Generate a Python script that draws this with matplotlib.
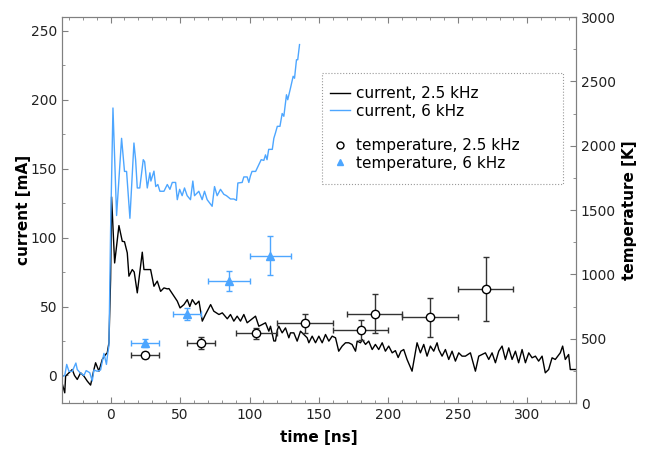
import matplotlib
matplotlib.use('Agg')
import matplotlib.pyplot as plt
from matplotlib.lines import Line2D
from matplotlib.patches import Rectangle
from matplotlib.ticker import MultipleLocator

# current trace, 2.5 kHz
t_25 = [-35, -33, -32.4, -30, -27.6, -26, -24, -21.6, -19.2, -16.8, -14.4, -12,
        -10.8, -8.4, -6, -3.6, -2.4, -1.2, 0, 0.7, 2.9, 6, 8.4, 10, 12, 13.2,
        15.6, 17, 19.2, 22.8, 24, 28.8, 31.2, 33.6, 36, 38.4, 40.8, 42, 45.6,
        48, 50, 52.8, 55.2, 57, 58.8, 61.2, 63.6, 66, 68.3, 72, 74.3, 78, 80.4,
        84, 86.3, 88.7, 91.1, 93.5, 95.9, 98.3, 101.9, 104.3, 106.7, 109.1,
        111.5, 113.9, 115.1, 117.5, 118.7, 120, 121.1, 123.5, 125.9, 128.3,
        129.5, 131.9, 134.3, 136.7, 139.1, 141.5, 142.7, 145.1, 147.5, 149.9,
        152.3, 154.7, 157.1, 159.5, 161.9, 164.2, 166.7, 169.1, 171.4, 173.8,
        176.3, 177.5, 179.9, 181.1, 183.5, 185.8, 188.3, 190.6, 193, 195.5,
        197.8, 200.2, 202.7, 205, 207, 209, 211, 213.4, 217, 220.6, 223, 225.4,
        227.8, 230.2, 232.6, 235, 236.2, 238.6, 241, 243.4, 245.8, 248.2,
        250.6, 253, 255.4, 259, 262.6, 265, 267.4, 269.8, 272.2, 274.6, 277,
        279.4, 281.8, 284.2, 286.6, 289, 291.4, 293.7, 296.2, 298.6, 301,
        303.4, 305.8, 308.1, 310.6, 312.9, 315.3, 317.8, 320.1, 323.7, 325.4,
        327.3, 329.7, 330.9, 334.5]
i_25 = [-5.3, -12.6, -0.5, 1.9, 4.3, 0, -2.9, 1.9, -0.5, -4.1, -7, 4.3,
        9.2, 3.1, 11.6, 15.2, 16.4, 23.7, 70, 129.5, 81.6, 108.7, 97.3, 97,
        88.9, 72, 76.8, 75, 59.9, 89.4, 76.8, 76.8, 64.7, 68.4, 61, 63.5, 62.8,
        63, 57.5, 53.9, 49, 51.4, 55, 50, 55, 51.4, 53.9, 39.4, 44.2, 51.4,
        46.6, 44.2, 45.4, 41.1, 44.2, 39.4, 43, 39.4, 44.2, 38.2, 41.1, 43,
        35.7, 36.9, 38.2, 32.1, 35.7, 25, 25, 33, 35.7, 30.9, 34.5, 27.3, 30.9,
        30.9, 24.9, 32.1, 29.7, 27.3, 23.7, 28.5, 23.7, 28.5, 23.7, 29.7, 24.9,
        28.5, 27.3, 17.6, 21.3, 23.7, 23.7, 22.5, 17.6, 24.9, 23.7, 26.1, 22.5,
        24.9, 18.8, 22.5, 18.8, 23.7, 17.6, 21.3, 16.4, 18, 13, 17.6, 18.8,
        11.6, 3.1, 23.7, 16.4, 22.5, 14, 21.3, 17.6, 23.7, 18.8, 14, 18.8,
        11.6, 17.6, 10.4, 16.4, 14, 14, 16.4, 3.1, 14, 15.2, 16.4, 11.6, 16.4,
        9.2, 17.6, 21.3, 11.6, 20, 11.6, 17.6, 9.2, 18.8, 9.2, 16.4, 12.8, 14,
        10.4, 14, 1.9, 4.3, 12.8, 11.6, 16.4, 21.3, 11.6, 15.2, 4.3, 4.3]

# current trace, 6 kHz
t_6 = [-35, -33, -31.6, -30, -27.6, -25, -24, -22, -19.2, -17.6, -15, -13.2,
       -12, -9.6, -7.2, -4.8, -3, -2, -1.2, 0, 1.7, 4.3, 7.9, 10, 11.5, 13.9,
       16.8, 18, 19.2, 21, 23.5, 24.5, 26.4, 28.3, 29, 31.2, 32.5, 34, 35.5,
       38.4, 40.8, 42.7, 44.4, 46.8, 48, 49.7, 51.5, 53.2, 55.1, 57.5, 59.2,
       60.4, 63.5, 65.9, 67.6, 69.5, 73.1, 74.8, 76.7, 79.1, 81.5, 83.4, 86.3,
       88.7, 90.6, 91.6, 94.7, 95.9, 98.3, 99.5, 100.6, 101.8, 104.4, 108.4,
       110.3, 111.5, 112.6, 113.8, 116.4, 117.5, 118.7, 120, 121.9, 123.5,
       124.7, 126.6, 127.5, 129.5, 131.4, 132.4, 133.8, 134.7, 136]
i_6 = [-1, 0, 8, 3, 3, 9, 4.3, 2, 0, 3.5, 2, -4, 4, 3, 4, 16, 8, 16.5, 21.5,
       105.8, 194, 116, 172, 148, 148, 114, 168.6, 156.5, 136, 136, 156.5,
       155, 136, 147, 141, 148.2, 137, 138.5, 133.6, 133.6, 138.5, 135, 140,
       140, 127.5, 135, 130.4, 136, 130.4, 127.5, 141, 130.4, 133.6, 127.5,
       133.6, 127.5, 122.7, 137, 130.4, 135, 131.4, 130.4, 128, 128, 127,
       139.6, 140, 144, 144, 140, 144.6, 148, 148, 156.5, 156, 160, 156.5,
       164, 164, 172, 176, 180.7, 180.7, 190, 188, 203.6, 200, 208.5, 217,
       215.6, 229, 229, 240]

# temperature points, 2.5 kHz
tt_25 = [25, 65, 105, 140, 180, 190, 230, 270]
tt_25_err = [10, 10, 15, 20, 20, 20, 20, 20]
temp_25 = [375, 466, 541, 619, 567, 694, 666, 888]
temp_25_err = [25, 50, 40, 75, 75, 150, 150, 250]

# temperature points, 6 kHz
tt_6 = [25, 55, 85, 115]
tt_6_err = [10, 10, 15, 15]
temp_6 = [469, 692, 948, 1145]
temp_6_err = [30, 45, 75, 150]

BLUE = '#4da6ff'
SPINE = '#808080'

plt.rcParams['font.family'] = 'DejaVu Sans'

fig = plt.figure(figsize=(6.49, 4.5), dpi=100)
ax = fig.add_axes([0.0955, 0.1044, 0.792, 0.8578])
ax2 = ax.twinx()

l25, = ax.plot(t_25, i_25, color='black', linewidth=1.0)
l6, = ax.plot(t_6, i_6, color=BLUE, linewidth=1.0)

ax2.errorbar(tt_25, temp_25, xerr=tt_25_err, yerr=temp_25_err, fmt='o',
             color='#333333', mfc='white', mec='black', ms=6, elinewidth=1,
             capsize=2, capthick=1, zorder=3)
ax2.errorbar(tt_6, temp_6, xerr=tt_6_err, yerr=temp_6_err, fmt='^',
             color=BLUE, mfc=BLUE, mec=BLUE, ms=6, elinewidth=1,
             capsize=2, capthick=1, zorder=3)

ax.set_xlim(-35, 335)
ax.set_ylim(-20, 260)
ax2.set_ylim(0, 3000)

ax.xaxis.set_major_locator(MultipleLocator(50))
ax.xaxis.set_minor_locator(MultipleLocator(10))
ax.yaxis.set_major_locator(MultipleLocator(50))
ax.yaxis.set_minor_locator(MultipleLocator(25))
ax2.yaxis.set_major_locator(MultipleLocator(500))
ax2.yaxis.set_minor_locator(MultipleLocator(250))

for a in (ax, ax2):
    a.tick_params(which='both', direction='in', color=SPINE, labelsize=10,
                  labelcolor='#222222')
    a.tick_params(which='major', length=4)
    a.tick_params(which='minor', length=2.5)
    for s in a.spines.values():
        s.set_color(SPINE)
ax.tick_params(which='both', top=True, right=False)

ax.set_xlabel('time [ns]', fontsize=11, fontweight='bold', labelpad=6)
ax.set_ylabel('current [mA]', fontsize=11, fontweight='bold', labelpad=0)
ax2.set_ylabel('temperature [K]', fontsize=11, fontweight='bold')

# dotted legend box
ax2.add_patch(Rectangle((0.506, 0.567), 0.469, 0.2876, transform=ax2.transAxes,
                        fill=False, edgecolor='#999999', linestyle=':',
                        linewidth=0.8, zorder=4))

blank = Line2D([], [], linestyle='none')
c25 = Line2D([], [], marker='o', linestyle='none', mfc='white', mec='black',
             ms=5)
c6 = Line2D([], [], marker='^', linestyle='none', mfc=BLUE, mec=BLUE, ms=5)
leg = ax2.legend([l25, l6, blank, c25, c6],
                 ['current, 2.5 kHz', 'current, 6 kHz', ' ',
                  'temperature, 2.5 kHz', 'temperature, 6 kHz'],
                 loc='upper left', bbox_to_anchor=(0.522, 0.82),
                 borderaxespad=0, borderpad=0, fontsize=11, frameon=False,
                 labelspacing=0.15, handlelength=1.3, handletextpad=0.35)

plt.savefig('out.png', dpi=100)
